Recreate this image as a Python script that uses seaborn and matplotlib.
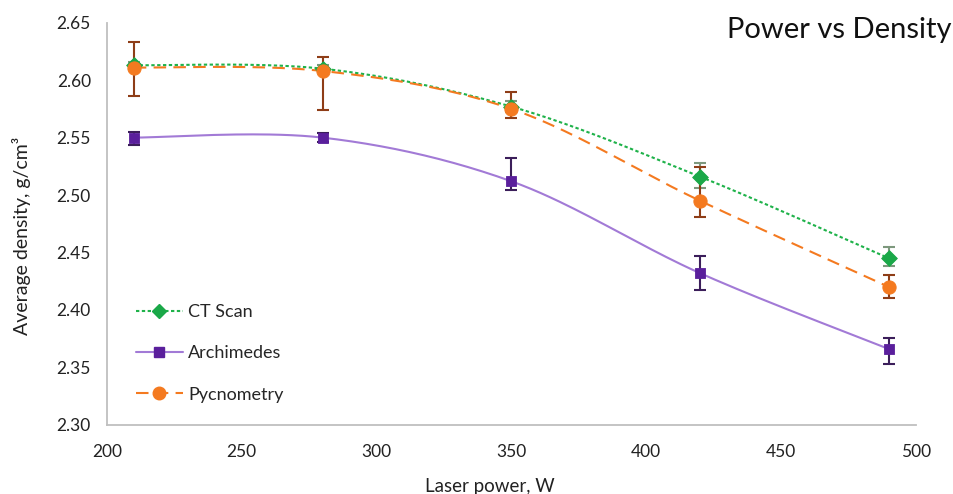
import numpy as np
import pandas as pd
import matplotlib
matplotlib.use("Agg")
import matplotlib.pyplot as plt
from matplotlib.lines import Line2D
from matplotlib.ticker import MultipleLocator, FormatStrFormatter
import seaborn as sns

# Laser power (W)
power = [210, 280, 350, 420, 490]

# Average density (g/cm3) per method, with lower / upper error bar ends
ct_scan = [2.613, 2.610, 2.577, 2.516, 2.445]
ct_lo = [2.610, 2.607, 2.572, 2.506, 2.438]
ct_hi = [2.616, 2.613, 2.582, 2.528, 2.455]

archimedes = [2.550, 2.550, 2.512, 2.432, 2.366]
arch_lo = [2.544, 2.546, 2.504, 2.417, 2.353]
arch_hi = [2.555, 2.554, 2.532, 2.447, 2.376]

pycnometry = [2.611, 2.608, 2.575, 2.495, 2.420]
pyc_lo = [2.586, 2.574, 2.567, 2.481, 2.410]
pyc_hi = [2.633, 2.620, 2.590, 2.524, 2.430]

series = ["CT Scan", "Archimedes", "Pycnometry"]


def smooth(x, y, n=40):
    # Excel style smoothed line (Catmull-Rom bezier through the points)
    x = np.asarray(x, float)
    y = np.asarray(y, float)
    px = np.concatenate([[x[0]], x, [x[-1]]])
    py = np.concatenate([[y[0]], y, [y[-1]]])
    xs, ys = [], []
    t = np.linspace(0, 1, n)
    for i in range(1, len(px) - 2):
        p0 = np.array([px[i], py[i]])
        p3 = np.array([px[i + 1], py[i + 1]])
        p1 = p0 + (p3 - np.array([px[i - 1], py[i - 1]])) / 6
        p2 = p3 - (np.array([px[i + 2], py[i + 2]]) - p0) / 6
        b = ((1 - t) ** 3)[:, None] * p0 + (3 * (1 - t) ** 2 * t)[:, None] * p1 \
            + (3 * (1 - t) * t ** 2)[:, None] * p2 + (t ** 3)[:, None] * p3
        xs.extend(b[:, 0])
        ys.extend(b[:, 1])
    return np.array(xs), np.array(ys)


sns.set_style("white")
plt.rcParams["font.family"] = ["Lato", "DejaVu Sans"]

fig = plt.figure(figsize=(9.54, 4.94), dpi=100)
ax = fig.add_axes([0.112, 0.14, 0.848, 0.814])

styles = {
    "CT Scan": dict(y=ct_scan, lo=ct_lo, hi=ct_hi, line="#1fb24a", ls=(0, (1.6, 1.2)),
                    marker="D", mc="#1aa848", ms=8, ec="#7d987d"),
    "Archimedes": dict(y=archimedes, lo=arch_lo, hi=arch_hi, line="#a27ad6", ls="-",
                       marker="s", mc="#5a1f9c", ms=7.5, ec="#3b1e5a"),
    "Pycnometry": dict(y=pycnometry, lo=pyc_lo, hi=pyc_hi, line="#f47a20", ls=(0, (6, 3.5)),
                       marker="o", mc="#f47a20", ms=9.5, ec="#8e3d17"),
}

handles = []
for name in series:
    s = styles[name]
    sx, sy = smooth(power, s["y"])
    sns.lineplot(x=sx, y=sy, ax=ax, color=s["line"], linestyle=s["ls"], linewidth=1.5,
                 sort=False, estimator=None, zorder=2)
    y = np.array(s["y"])
    yerr = [y - np.array(s["lo"]), np.array(s["hi"]) - y]
    ax.errorbar(power, y, yerr=yerr, fmt="none", ecolor=s["ec"], elinewidth=1.5,
                capsize=4, capthick=1.5, zorder=3)
    df = pd.DataFrame({"power": power, "density": s["y"]})
    sns.scatterplot(data=df, x="power", y="density", ax=ax, marker=s["marker"],
                    color=s["mc"], edgecolor=s["mc"], s=s["ms"] ** 2, zorder=4)
    handles.append(Line2D([], [], color=s["line"], linestyle=s["ls"], linewidth=1.5,
                          marker=s["marker"], markerfacecolor=s["mc"], markeredgecolor=s["mc"],
                          markersize=s["ms"] * 0.95))

ax.set_xlim(200, 500)
ax.set_ylim(2.30, 2.65)
ax.xaxis.set_major_locator(MultipleLocator(50))
ax.xaxis.set_minor_locator(MultipleLocator(10))
ax.yaxis.set_major_locator(MultipleLocator(0.05))
ax.yaxis.set_minor_locator(MultipleLocator(0.01))
ax.yaxis.set_major_formatter(FormatStrFormatter("%.2f"))

for side in ["top", "right"]:
    ax.spines[side].set_visible(False)
for side in ["left", "bottom"]:
    ax.spines[side].set_color("#bfbfbf")
    ax.spines[side].set_linewidth(1.3)

ax.tick_params(which="major", direction="inout", length=7, width=1.1, color="#bfbfbf",
               labelsize=12.5, labelcolor="#222222", pad=8)
ax.tick_params(which="minor", direction="in", length=3.5, width=1.0, color="#bfbfbf")
ax.tick_params(axis="x", which="major", pad=10)

ax.set_xlabel("Laser power, W", fontsize=13.5, color="#222222", va="center")
ax.xaxis.set_label_coords(0.473, -0.153)
ax.set_ylabel("Average density, g/cm³", fontsize=14, color="#222222", va="center")
ax.yaxis.set_label_coords(-0.106, 0.47)

ax.legend(handles, series, loc="center left", bbox_to_anchor=(0.036, 0.178),
          frameon=False, fontsize=13, handlelength=2.6, handletextpad=0.3,
          labelspacing=1.4, borderpad=0, borderaxespad=0)

fig.text(0.997, 0.94, "Power vs Density", ha="right", va="center", fontsize=21,
         color="#111111")

fig.savefig("out.png", dpi=100)
